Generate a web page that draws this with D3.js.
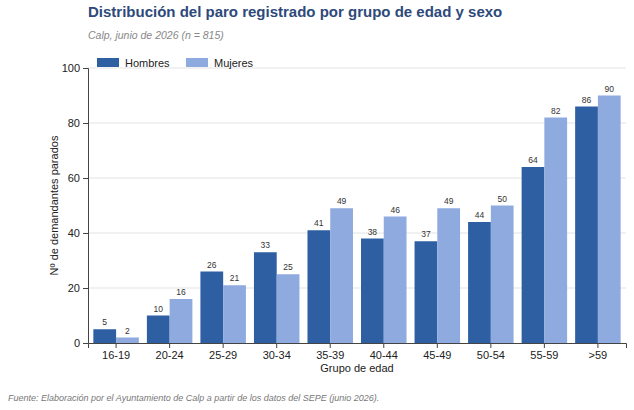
<!DOCTYPE html>
<html><head><meta charset="utf-8">
<script src="https://cdn.jsdelivr.net/npm/d3@7"></script>
<style>body{margin:0;background:#fff;font-family:"Liberation Sans",Arial,sans-serif}</style>
</head><body><svg id="c" width="634" height="410"></svg>
<script>
const categories=["16-19","20-24","25-29","30-34","35-39","40-44","45-49","50-54","55-59",">59"];
const hombres=[5,10,26,33,41,38,37,44,64,86];
const mujeres=[2,16,21,25,49,46,49,50,82,90];
const yTicks=[0,20,40,60,80,100];
const svg=d3.select("#c");
const L=88,R=626,T=68,B=343;
const x=d3.scaleBand().domain(categories).range([L,R]).paddingInner(0.15).paddingOuter(0.1);
const y=d3.scaleLinear().domain([0,100]).range([B,T]);
const colH="#2e5fa3",colM="#8eaadf";
svg.append("text").attr("x",88).attr("y",17).attr("font-size",15).attr("font-weight","bold").attr("fill","#2d4a7a").text("Distribución del paro registrado por grupo de edad y sexo");
svg.append("text").attr("x",88).attr("y",39).attr("font-size",10.5).attr("font-style","italic").attr("fill","#888").text("Calp, junio de 2026 (n = 815)");
svg.append("text").attr("x",8).attr("y",401).attr("font-size",9).attr("font-style","italic").attr("fill","#777").text("Fuente: Elaboración por el Ayuntamiento de Calp a partir de los datos del SEPE (junio 2026).");
const g=svg.append("g");
g.selectAll("line.gr").data(yTicks.slice(1)).join("line").attr("x1",L).attr("x2",R).attr("y1",d=>y(d)).attr("y2",d=>y(d)).attr("stroke","#e3e3e3");
const ya=svg.append("g").attr("transform",`translate(${L},0)`).call(d3.axisLeft(y).tickValues(yTicks).tickSize(5));
const xa=svg.append("g").attr("transform",`translate(0,${B})`).call(d3.axisBottom(x).tickSize(5));
[ya,xa].forEach(a=>{a.selectAll("text").attr("font-size",11).attr("fill","#222").attr("font-family","Liberation Sans, Arial");a.selectAll("line,path").attr("stroke","#444");});
const bw=x.bandwidth()/2;
const data=[hombres,mujeres];const cols=[colH,colM];
data.forEach((arr,i)=>{
 svg.append("g").selectAll("rect").data(arr).join("rect").attr("x",(d,j)=>x(categories[j])+i*bw).attr("y",d=>y(d)).attr("width",bw).attr("height",d=>B-y(d)).attr("fill",cols[i]);
 svg.append("g").selectAll("text").data(arr).join("text").attr("x",(d,j)=>x(categories[j])+i*bw+bw/2).attr("y",d=>y(d)-4).attr("text-anchor","middle").attr("font-size",8.5).attr("fill","#333").text(d=>d);
});
svg.append("text").attr("x",(L+R)/2).attr("y",372).attr("text-anchor","middle").attr("font-size",11).attr("fill","#222").text("Grupo de edad");
svg.append("text").attr("transform",`translate(58,${(T+B)/2}) rotate(-90)`).attr("text-anchor","middle").attr("font-size",11).attr("fill","#222").text("Nº de demandantes parados");
[["Hombres",colH,97],["Mujeres",colM,186]].forEach(([t,c,lx])=>{
 svg.append("rect").attr("x",lx).attr("y",58).attr("width",22).attr("height",9).attr("fill",c);
 svg.append("text").attr("x",lx+28).attr("y",67).attr("font-size",11).attr("fill","#222").text(t);
});
</script></body></html>
